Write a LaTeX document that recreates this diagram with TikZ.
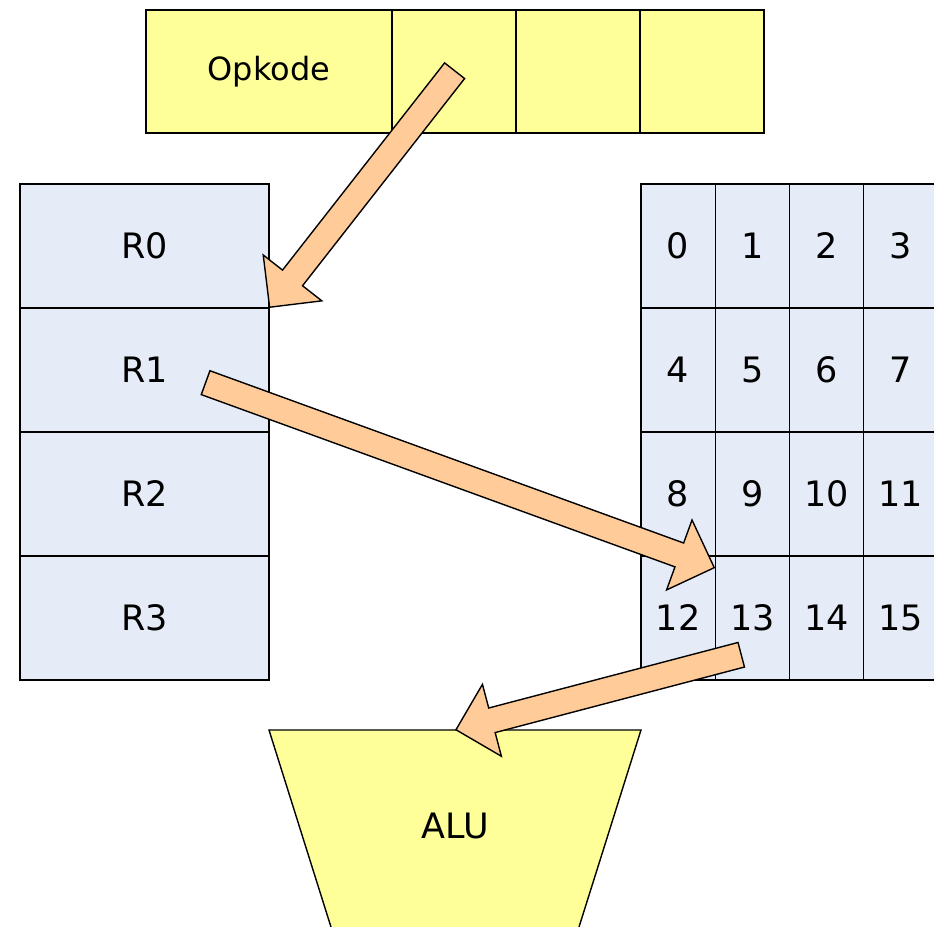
\documentclass[tikz,border=0pt]{standalone}
\usepackage{fontspec}
\setmainfont{DejaVu Sans}
\usetikzlibrary{calc,positioning,shapes.arrows}

\definecolor{opyellow}{RGB}{255,255,153}
\definecolor{regblue}{RGB}{230,236,247}
\definecolor{arrowpeach}{RGB}{255,204,153}

% fat block arrow whose tip sits on #2 and whose tail starts at #1
\newcommand{\fatarrow}[2]{%
  \path let \p1=(#1), \p2=(#2),
      \n1={atan2(\y2-\y1,\x2-\x1)}, \n2={veclen(\x2-\x1,\y2-\y1)} in
    node[fat arrow, minimum height=\n2, rotate=\n1, anchor=tip] at (\p2) {};}

\begin{document}
\begin{tikzpicture}[x=1pt,y=-1pt,
    font=\fontsize{17.5}{21}\selectfont,
    field/.style={draw, fill=opyellow, line width=0.7pt, inner sep=0pt, outer sep=0pt,
      minimum width=62pt, minimum height=61.5pt},
    register/.style={draw, fill=regblue, line width=0.7pt, inner sep=0pt, outer sep=0pt,
      minimum width=124.5pt, minimum height=62pt},
    memcell/.style={register, minimum width=37.1pt, anchor=north west},
    fat arrow/.style={single arrow, draw, fill=arrowpeach, line width=0.7pt,
      inner xsep=0pt, inner ysep=6pt, single arrow head extend=12.25pt,
      single arrow tip angle=90}]
  \useasboundingbox (0,0) rectangle (467,463.5);
  \clip (0,0) rectangle (467,463.5);

  % instruction word
  \node[field, minimum width=123pt, anchor=north west, font=\fontsize{16}{19}\selectfont]
    (opcode) at (73,5) {Opkode};
  \node[field, right=0pt of opcode] (arg1) {};
  \node[field, right=0pt of arg1] (arg2) {};
  \node[field, right=0pt of arg2] (arg3) {};

  % register file
  \node[register, anchor=north west] (r0) at (10,92) {R0};
  \node[register, below=0pt of r0] (r1) {R1};
  \node[register, below=0pt of r1] (r2) {R2};
  \node[register, below=0pt of r2] (r3) {R3};

  % memory, 4 cells per row
  \foreach \i in {0,...,15} {
    \pgfmathtruncatemacro\row{\i/4}
    \pgfmathtruncatemacro\col{mod(\i,4)}
    \node[memcell] (m\i) at (320.5+37.1*\col, 92+62*\row) {\i};
  }

  % ALU
  \draw[fill=opyellow, line width=0.7pt]
    (134.5,365) -- (320.5,365) -- (286.2,474) -- (168.8,474) -- cycle;
  \node (alu) at (227.5,413) {ALU};
  \coordinate (alu in) at (227.5,365);

  % data path
  \coordinate (r1 out) at ([xshift=31pt,yshift=-6.5pt]r1.center);
  \coordinate (m13 in) at ([yshift=-6pt]m13.north west);
  \coordinate (m13 out) at ([xshift=-6pt,yshift=-18.5pt]m13.center);
  \fatarrow{arg1.center}{r0.south east}
  \fatarrow{r1 out}{m13 in}
  \fatarrow{m13 out}{alu in}
\end{tikzpicture}
\end{document}
